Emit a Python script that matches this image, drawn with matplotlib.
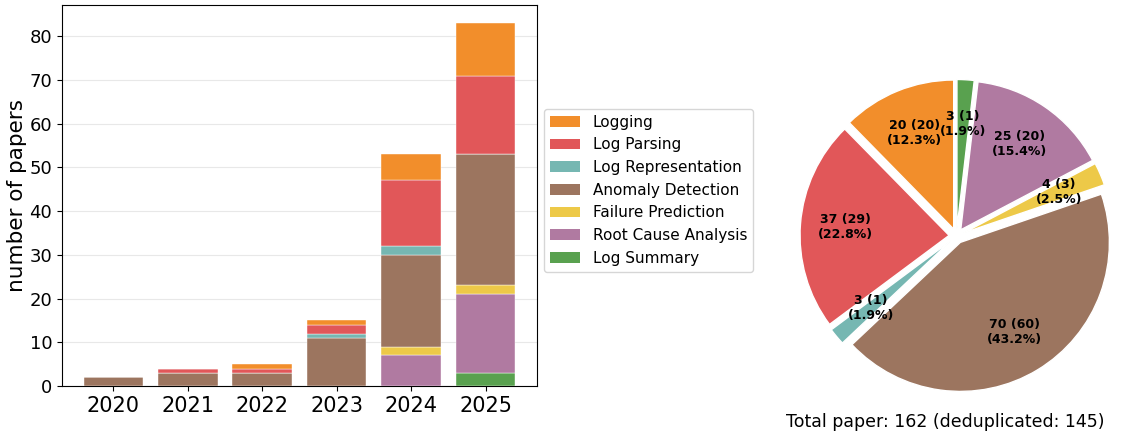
import numpy as np
import matplotlib.pyplot as plt
from matplotlib.patches import Patch

years = ["2020", "2021", "2022", "2023", "2024", "2025"]

# stacked from bottom to top
categories = ["Log Summary", "Root Cause Analysis", "Failure Prediction",
              "Anomaly Detection", "Log Representation", "Log Parsing", "Logging"]
colors = ["#59A14F", "#B07AA1", "#EDC948", "#9C755F", "#76B7B2", "#E15759", "#F28E2B"]

log_summary = [0, 0, 0, 0, 0, 3]
root_cause = [0, 0, 0, 0, 7, 18]
failure_pred = [0, 0, 0, 0, 2, 2]
anomaly_det = [2, 3, 3, 11, 21, 30]
log_repr = [0, 0, 0, 1, 2, 0]
log_parsing = [0, 1, 1, 2, 15, 18]
logging_ = [0, 0, 1, 1, 6, 12]
series = [log_summary, root_cause, failure_pred, anomaly_det, log_repr, log_parsing, logging_]

# pie (counterclockwise from top)
pie_labels = ["Logging", "Log Parsing", "Log Representation", "Anomaly Detection",
              "Failure Prediction", "Root Cause Analysis", "Log Summary"]
pie_counts = [20, 37, 3, 70, 4, 25, 3]
pie_dedup = [20, 29, 1, 60, 3, 20, 1]
pie_colors = ["#F28E2B", "#E15759", "#76B7B2", "#9C755F", "#EDC948", "#B07AA1", "#59A14F"]
total_text = "Total paper: 162 (deduplicated: 145)"

fig = plt.figure(figsize=(11.36, 4.37), dpi=100)

ax = fig.add_axes([0.0546, 0.1167, 0.418, 0.872])
x = np.arange(len(years))
bottom = np.zeros(len(years))
for name, vals, c in zip(categories, series, colors):
    ax.bar(x, vals, bottom=bottom, color=c, width=0.8, edgecolor="white",
           linewidth=0.3, zorder=3)
    bottom += np.array(vals)
ax.set_xticks(x)
ax.set_xticklabels(years, fontsize=15)
ax.tick_params(axis="y", labelsize=13)
ax.set_ylabel("number of papers", fontsize=15.5, labelpad=2)
ax.yaxis.grid(True, color="#e8e8e8", linewidth=0.8, zorder=0)
ax.set_axisbelow(True)

handles = [Patch(facecolor=c, label=n) for n, c in zip(categories[::-1], colors[::-1])]
fig.legend(handles=handles, loc="center left", bbox_to_anchor=(0.472, 0.565),
           fontsize=11, frameon=True)

pax = fig.add_axes([0.678, 0.031, 0.328, 0.858])
idx = iter(range(len(pie_counts)))


def fmt(pct):
    i = next(idx)
    return f"{pie_counts[i]} ({pie_dedup[i]})\n({pct:.1f}%)"


pax.pie(pie_counts, colors=pie_colors, startangle=90, explode=[0.05] * len(pie_counts),
        autopct=fmt, pctdistance=0.7,
        textprops={"fontsize": 9, "fontweight": "bold"},
        wedgeprops={"edgecolor": "white", "linewidth": 1})
pax.set_aspect("equal")
fig.text(0.832, 0.034, total_text, ha="center", va="center", fontsize=12.5)

fig.savefig("out.png", dpi=100)
